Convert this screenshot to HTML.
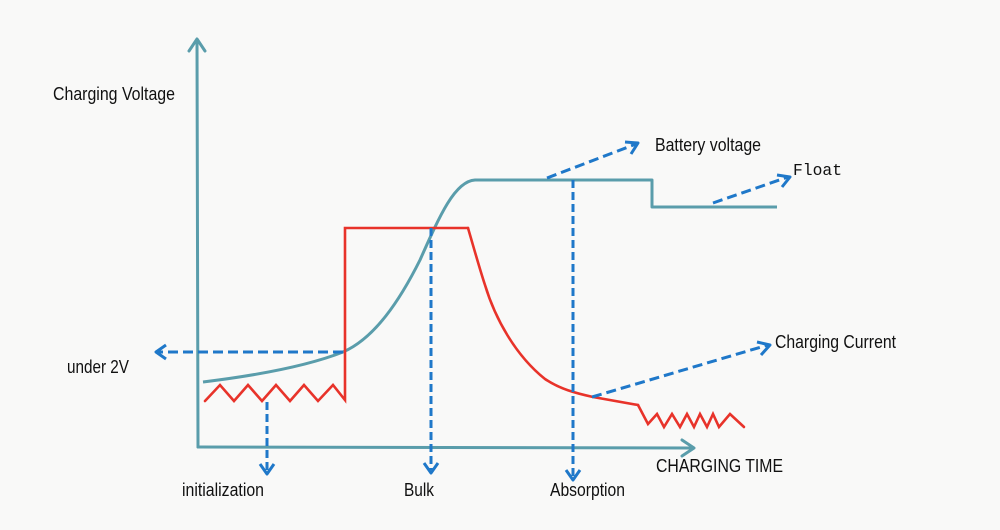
<!DOCTYPE html>
<html>
<head>
<meta charset="utf-8">
<style>
  html, body { margin: 0; padding: 0; background: #f9f9f8; }
  svg { display: block; }
  text { font-family: "Liberation Sans", Arial, sans-serif; fill: #111; }
</style>
</head>
<body>
<svg width="1000" height="530" viewBox="0 0 1000 530" xmlns="http://www.w3.org/2000/svg">
  <rect x="0" y="0" width="1000" height="530" fill="#f9f9f8"/>

  <!-- Axes -->
  <g stroke="#5a9dab" stroke-width="3" fill="none" stroke-linecap="round" stroke-linejoin="round">
    <line x1="198" y1="447" x2="197" y2="40"/>
    <polyline points="189,51 197,39 205,51"/>
    <line x1="198" y1="447" x2="693" y2="448"/>
    <polyline points="682,440 694,448 682,456"/>
  </g>

  <!-- Battery voltage curve -->
  <path d="M203,382 C260,375 310,365 343,352 C375,338 400,300 420,260 C440,215 455,181 475,180 L652,180 L652,207 L777,207"
        stroke="#5a9dab" stroke-width="3" fill="none" stroke-linejoin="round"/>

  <!-- Charging current (red) -->
  <g stroke="#e8332a" stroke-width="2.6" fill="none" stroke-linejoin="miter" stroke-linecap="round">
    <polyline points="205,401 220,385 234,401 248,385 262,401 276,385 290,401 304,385 318,401 333,385 345,400 345,228 468,228"/>
    <path d="M468,228 C475,252 480,270 485,285 C495,318 515,355 545,379 C560,389 575,393 593,397 L638,405"/>
    <polyline points="638,405 648,424 657,414 664,427 672,414 680,427 687,414 694,427 700,414 707,427 713,414 719,427 730,414 744,427"/>
  </g>

  <!-- Blue dashed arrows -->
  <g stroke="#1f78c9" stroke-width="3" fill="none" stroke-linecap="butt" stroke-linejoin="round">
    <line x1="343" y1="352" x2="157" y2="352" stroke-dasharray="10,5"/>
    <polyline points="166,345 156,352 166,359"/>

    <line x1="267" y1="402" x2="267" y2="472" stroke-dasharray="8,4"/>
    <polyline points="260,464 267,474 274,464"/>

    <line x1="431" y1="228" x2="431" y2="470" stroke-dasharray="8,4"/>
    <polyline points="424,463 431,473 438,463"/>

    <line x1="573" y1="180" x2="573" y2="477" stroke-dasharray="8,4"/>
    <polyline points="566,470 573,480 580,470"/>

    <line x1="547" y1="178" x2="636" y2="144" stroke-dasharray="10,5"/>
    <polyline points="625,142 638,143 631,154"/>

    <line x1="713" y1="203" x2="788" y2="177" stroke-dasharray="10,5"/>
    <polyline points="777,175 790,177 782,187"/>

    <line x1="592" y1="397" x2="768" y2="345" stroke-dasharray="10,5"/>
    <polyline points="757,342 770,345 761,355"/>
  </g>

  <!-- Labels -->
  <text x="53" y="100" font-size="18" textLength="122" lengthAdjust="spacingAndGlyphs">Charging Voltage</text>
  <text x="67" y="373" font-size="18" textLength="62" lengthAdjust="spacingAndGlyphs">under 2V</text>
  <text x="655" y="151" font-size="18" textLength="106" lengthAdjust="spacingAndGlyphs">Battery voltage</text>
  <text x="793" y="175" font-size="17" textLength="49" lengthAdjust="spacingAndGlyphs" style="font-family:'Liberation Mono','Liberation Serif',monospace;">Float</text>
  <text x="775" y="348" font-size="18" textLength="121" lengthAdjust="spacingAndGlyphs">Charging Current</text>
  <text x="656" y="472" font-size="18" textLength="127" lengthAdjust="spacingAndGlyphs">CHARGING TIME</text>
  <text x="182" y="496" font-size="18" textLength="82" lengthAdjust="spacingAndGlyphs">initialization</text>
  <text x="404" y="496" font-size="18" textLength="30" lengthAdjust="spacingAndGlyphs">Bulk</text>
  <text x="550" y="496" font-size="18" textLength="75" lengthAdjust="spacingAndGlyphs">Absorption</text>
</svg>
</body>
</html>
